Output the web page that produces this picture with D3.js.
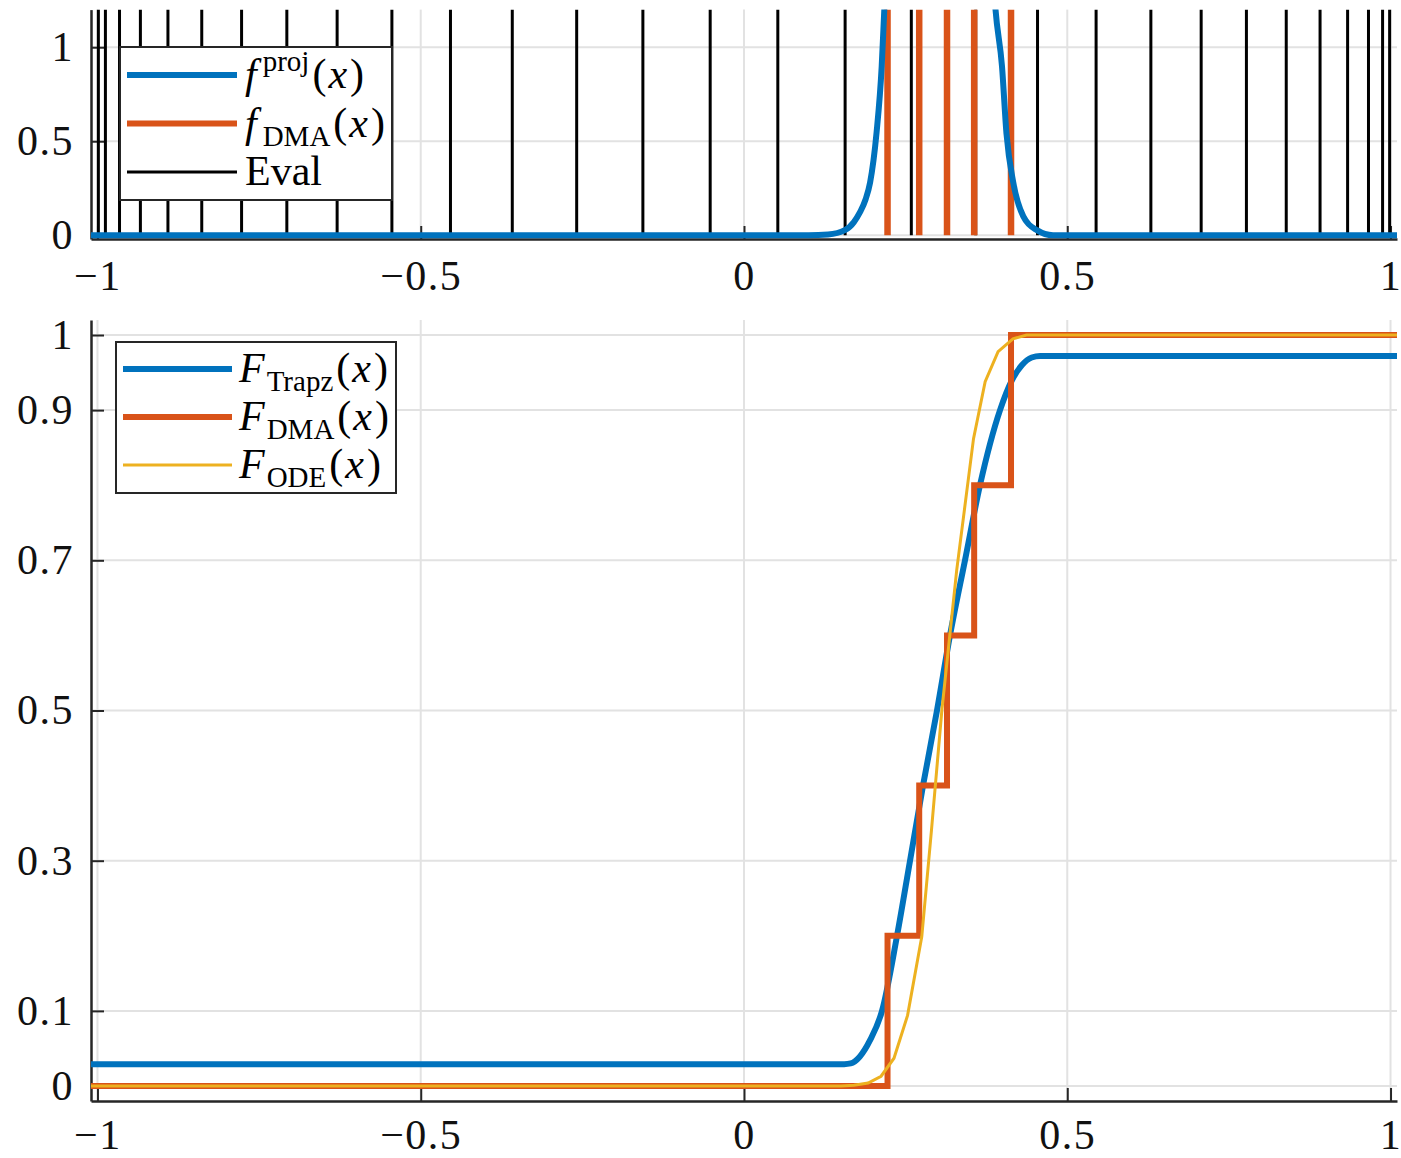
<!DOCTYPE html>
<html><head><meta charset="utf-8">
<script src="https://cdn.jsdelivr.net/npm/d3@7"></script>
<style>
body{margin:0;background:#fff}
svg{display:block}
text{font-family:"Liberation Serif","Times New Roman",serif;}
</style>
</head><body>
<script>
// ---------- data ----------
const xTicks = [-1, -0.5, 0, 0.5, 1];
const yTicksTop = [0, 0.5, 1];
const yTicksBottom = [0, 0.1, 0.3, 0.5, 0.7, 0.9, 1];

// evaluation points (black vertical lines, top panel)
const evalPoints = [-0.9986,-0.9877,-0.9659,-0.9336,-0.8910,-0.8387,-0.7771,-0.7071,-0.6293,-0.5446,
  -0.4540,-0.3584,-0.2588,-0.1564,-0.0523,0.0523,0.1564,0.2588,0.3584,0.4540,
  0.5446,0.6293,0.7071,0.7771,0.8387,0.8910,0.9336,0.9659,0.9877,0.9986];

// DMA atoms (orange spikes in top panel, steps in bottom panel)
const dmaX = [0.222, 0.271, 0.314, 0.356, 0.413];
const dmaCdf = [0.2, 0.4, 0.6, 0.8, 1.0];

// f^proj(x) (blue, top panel; clipped above 1.2)
const fProjX = [-1.01, 0.10, 0.13, 0.156, 0.17, 0.179, 0.188, 0.195, 0.205, 0.213, 0.217, 0.225, 0.26, 0.30, 0.34, 0.37, 0.389, 0.399, 0.406, 0.4165, 0.432, 0.453, 0.478, 1.01];
const fProjY = [0, 0, 0.004, 0.027, 0.07, 0.12, 0.19, 0.28, 0.545, 0.9, 1.2, 1.8, 3.6, 4.6, 3.9, 2.5, 1.2, 0.9, 0.54, 0.28, 0.1, 0.027, 0.0, 0];

// F_Trapz(x) (blue, bottom panel)
const fTrapzX = [-1.01, 0.155, 0.165, 0.179, 0.195, 0.2135, 0.2367, 0.2568, 0.2769, 0.2985, 0.3186, 0.3418, 0.365, 0.396, 0.4145, 0.430, 0.445, 0.458, 1.01];
const fTrapzY = [0.029, 0.029, 0.030, 0.039, 0.061, 0.1, 0.2, 0.3, 0.4, 0.5, 0.6, 0.7, 0.8, 0.9, 0.94, 0.96, 0.970, 0.972, 0.972];

// F_ODE(x) (yellow, bottom panel)
const fOdeX = [-1.01, 0.15, 0.17, 0.192, 0.212, 0.232, 0.253, 0.275, 0.290, 0.306, 0.329, 0.355, 0.373, 0.393, 0.416, 0.437, 1.01];
const fOdeY = [0, 0, 0.001, 0.004, 0.013, 0.037, 0.094, 0.199, 0.341, 0.5, 0.687, 0.862, 0.938, 0.978, 0.995, 1.0, 1.0];

// ---------- styles ----------
const C_BLUE = "#0072BD", C_ORANGE = "#D95319", C_YELLOW = "#EDB120", C_AXIS = "#262626", C_GRID = "#e2e2e2";
const FS = 42;

const svg = d3.select("body").append("svg").attr("width", 1401).attr("height", 1158);

const x = d3.scaleLinear().domain([-1.01, 1.01]).range([91, 1397]);
const yTop = d3.scaleLinear().domain([-0.02, 1.2]).range([239, 9.6]);
const yBot = d3.scaleLinear().domain([-0.02, 1.02]).range([1101, 320]);

const fmt = d => d < 0 ? "\u2212" + Math.abs(d) : String(d);

function drawFrame(id, y, yTicks, xPad) {
  const g = svg.append("g");
  // grid
  g.append("g").selectAll("line").data(xTicks).join("line")
    .attr("x1", d => x(d)).attr("x2", d => x(d))
    .attr("y1", y.range()[0]).attr("y2", y.range()[1])
    .attr("stroke", C_GRID).attr("stroke-width", 2);
  g.append("g").selectAll("line").data(yTicks).join("line")
    .attr("x1", x.range()[0]).attr("x2", x.range()[1])
    .attr("y1", d => y(d)).attr("y2", d => y(d))
    .attr("stroke", C_GRID).attr("stroke-width", 2);
  // axes
  const ax = g.append("g").attr("transform", `translate(0,${y.range()[0]})`)
    .call(d3.axisBottom(x).tickValues(xTicks).tickFormat(fmt).tickSize(-13).tickSizeOuter(0).tickPadding(xPad));
  const ay = g.append("g").attr("transform", `translate(${x.range()[0]},0)`)
    .call(d3.axisLeft(y).tickValues(yTicks).tickFormat(fmt).tickSize(-13).tickSizeOuter(0).tickPadding(17));
  [ax, ay].forEach(a => {
    a.attr("color", C_AXIS).attr("font-size", FS).attr("font-family", "Liberation Serif, serif");
    a.select(".domain").attr("stroke-width", 2.5);
    a.selectAll(".tick line").attr("stroke-width", 2);
    a.selectAll(".tick text").attr("fill", "#111").attr("letter-spacing", 1.5);
  });
  // clip
  svg.append("clipPath").attr("id", id).append("rect")
    .attr("x", x.range()[0]).attr("y", y.range()[1])
    .attr("width", x.range()[1] - x.range()[0]).attr("height", y.range()[0] - y.range()[1]);
}

// ---------- top panel ----------
drawFrame("clipTop", yTop, yTicksTop, 21);
const gTop = svg.append("g").attr("clip-path", "url(#clipTop)");
gTop.append("g").selectAll("line").data(evalPoints).join("line")
  .attr("x1", d => x(d)).attr("x2", d => x(d))
  .attr("y1", yTop(0)).attr("y2", yTop(1.2))
  .attr("stroke", "#000").attr("stroke-width", 3);
gTop.append("g").selectAll("line").data(dmaX).join("line")
  .attr("x1", d => x(d)).attr("x2", d => x(d))
  .attr("y1", yTop(0)).attr("y2", yTop(1.2))
  .attr("stroke", C_ORANGE).attr("stroke-width", 6.5);
const lineTop = d3.line().x(d => x(d[0])).y(d => yTop(d[1])).curve(d3.curveMonotoneX);
gTop.append("path").datum(fProjX.map((v, i) => [v, fProjY[i]]))
  .attr("d", lineTop).attr("fill", "none").attr("stroke", C_BLUE).attr("stroke-width", 6);

// ---------- bottom panel ----------
drawFrame("clipBot", yBot, yTicksBottom, 18);
const gBot = svg.append("g").attr("clip-path", "url(#clipBot)");
const lineBotSmooth = d3.line().x(d => x(d[0])).y(d => yBot(d[1])).curve(d3.curveMonotoneX);
const lineBotLin = d3.line().x(d => x(d[0])).y(d => yBot(d[1]));
gBot.append("path").datum(fTrapzX.map((v, i) => [v, fTrapzY[i]]))
  .attr("d", lineBotSmooth).attr("fill", "none").attr("stroke", C_BLUE).attr("stroke-width", 6);
// DMA step function: value 0 before first atom, then cumulative weights
const dmaPts = [[-1.01, 0]];
dmaX.forEach((v, i) => dmaPts.push([v, dmaCdf[i]]));
dmaPts.push([1.01, dmaCdf[dmaCdf.length - 1]]);
gBot.append("path").datum(dmaPts)
  .attr("d", d3.line().x(d => x(d[0])).y(d => yBot(d[1])).curve(d3.curveStepAfter))
  .attr("fill", "none").attr("stroke", C_ORANGE).attr("stroke-width", 6).attr("stroke-linejoin", "miter");
gBot.append("path").datum(fOdeX.map((v, i) => [v, fOdeY[i]]))
  .attr("d", lineBotLin).attr("fill", "none").attr("stroke", C_YELLOW).attr("stroke-width", 3);

// ---------- legends ----------
function legend(box, items) {
  const g = svg.append("g");
  g.append("rect").attr("x", box.x).attr("y", box.y).attr("width", box.w).attr("height", box.h)
    .attr("fill", "#fff").attr("stroke", C_AXIS).attr("stroke-width", 2);
  items.forEach((it, i) => {
    const ly = box.first + i * box.step;
    g.append("line").attr("x1", box.lx1).attr("x2", box.lx2).attr("y1", ly).attr("y2", ly)
      .attr("stroke", it.color).attr("stroke-width", it.w);
    const t = g.append("text").attr("x", box.tx).attr("y", ly + 13).attr("font-size", FS).attr("fill", "#000");
    it.parts.forEach(p => {
      const s = t.append("tspan").text(p.t);
      if (p.i) s.attr("font-style", "italic");
      if (p.sup) s.attr("font-size", 29).attr("dy", -17).attr("dx", 6);
      if (p.sub) s.attr("font-size", 29).attr("dy", 9).attr("dx", p.sdx || 2);
      if (p.reset) s.attr("dy", p.reset).attr("dx", 3);
      if (p.pad) s.attr("dx", p.pad);
    });
  });
}

legend({x: 120, y: 47, w: 272, h: 153, lx1: 127, lx2: 237, tx: 245, first: 75, step: 48.5}, [
  {color: C_BLUE, w: 6, parts: [{t: "f", i: 1}, {t: "proj", sup: 1}, {t: "(", reset: 17}, {t: "x", i: 1, pad: 2}, {t: ")", pad: 3}]},
  {color: C_ORANGE, w: 6, parts: [{t: "f", i: 1}, {t: "DMA", sub: 1, sdx: 6}, {t: "(", reset: -9}, {t: "x", i: 1, pad: 2}, {t: ")", pad: 3}]},
  {color: "#000", w: 3, parts: [{t: "Eval"}]}
]);

legend({x: 116, y: 342, w: 280, h: 151, lx1: 123, lx2: 232, tx: 239, first: 369, step: 48}, [
  {color: C_BLUE, w: 6, parts: [{t: "F", i: 1}, {t: "Trapz", sub: 1}, {t: "(", reset: -9}, {t: "x", i: 1, pad: 2}, {t: ")", pad: 3}]},
  {color: C_ORANGE, w: 6, parts: [{t: "F", i: 1}, {t: "DMA", sub: 1}, {t: "(", reset: -9}, {t: "x", i: 1, pad: 2}, {t: ")", pad: 3}]},
  {color: C_YELLOW, w: 3, parts: [{t: "F", i: 1}, {t: "ODE", sub: 1}, {t: "(", reset: -9}, {t: "x", i: 1, pad: 2}, {t: ")", pad: 3}]}
]);
</script>
</body></html>
